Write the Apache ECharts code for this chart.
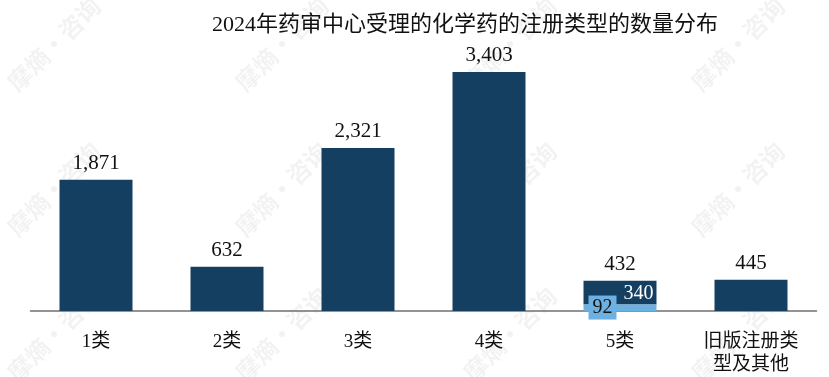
<!DOCTYPE html>
<html><head><meta charset="utf-8">
<script src="https://cdn.jsdelivr.net/npm/echarts@6/dist/echarts.min.js"></script>
<style>html,body{margin:0;padding:0;background:#fff}#c{width:829px;height:377px}</style>
</head><body><div id="c"></div>
<script>
var titleText = '2024年药审中心受理的化学药的注册类型的数量分布';
var categories = ['1类', '2类', '3类', '4类', '5类', '旧版注册类\n型及其他'];
var totals = [1871, 632, 2321, 3403, 432, 445];
var darkValues = [1871, 632, 2321, 3403, 340, 445];
var lightValues = [null, null, null, null, 92, null];
var watermarkText = '摩熵·咨询';

var DARK = '#153f61', LIGHT = '#6db0e2';
var SERIF = "'Liberation Serif','Times New Roman','Noto Sans CJK SC',serif";
function fmt(v){ return String(v).replace(/\B(?=(\d{3})+(?!\d))/g, ','); }

var wm = [];
[95, 240, 385].forEach(function(y){
  [20, 248, 476, 704].forEach(function(x){
    wm.push({type:'text', x:x, y:y, rotation:Math.PI/4, z:-10, silent:true,
      style:{text:watermarkText, fill:'rgba(0,0,0,0.05)', font:'bold 24px "Noto Sans CJK SC"', textVerticalAlign:'bottom'}});
  });
});

var chart = echarts.init(document.getElementById('c'), null, {renderer:'canvas'});
chart.setOption({
  animation:false,
  backgroundColor:'#fff',
  graphic: wm,
  title:{text:titleText, left:460, top:9, textAlign:'center',
    textStyle:{fontFamily:SERIF, fontSize:22, fontWeight:'normal', color:'#111'}},
  grid:{left:30.5, right:12.5, top:40, bottom:66, containLabel:false},
  xAxis:{type:'category', data:categories,
    axisLine:{lineStyle:{color:'#707070', width:1.5}}, axisTick:{show:false},
    axisLabel:{interval:0, margin:20, fontFamily:SERIF, fontSize:19, color:'#111', lineHeight:23}},
  yAxis:{type:'value', min:0, max:3860, show:false, splitLine:{show:false}},
  series:[
    {name:'light', type:'bar', stack:'s', data:lightValues, barWidth:73, itemStyle:{color:LIGHT},
      label:{show:true, position:[5,-9], color:'#111', fontFamily:SERIF, fontSize:20, lineHeight:20,
        backgroundColor:LIGHT, padding:[2,4,2,4], formatter:function(p){return fmt(p.value);}} , z:3},
    {name:'dark', type:'bar', stack:'s', barWidth:73, itemStyle:{color:DARK},
      data: darkValues.map(function(v,i){
        return i===4 ? {value:v, label:{show:true, position:'insideTopRight', distance:3, color:'#fff', fontFamily:SERIF, fontSize:20, formatter:fmt(v)}} : v;
      }), label:{show:false}, z:2},
    {name:'total', type:'bar', barGap:'-100%', barWidth:73, data:totals, z:1,
      itemStyle:{color:'rgba(0,0,0,0)'},
      label:{show:true, position:'top', distance:6, color:'#111', fontFamily:SERIF, fontSize:21,
        formatter:function(p){return fmt(p.value);}}}
  ]
});
</script></body></html>
